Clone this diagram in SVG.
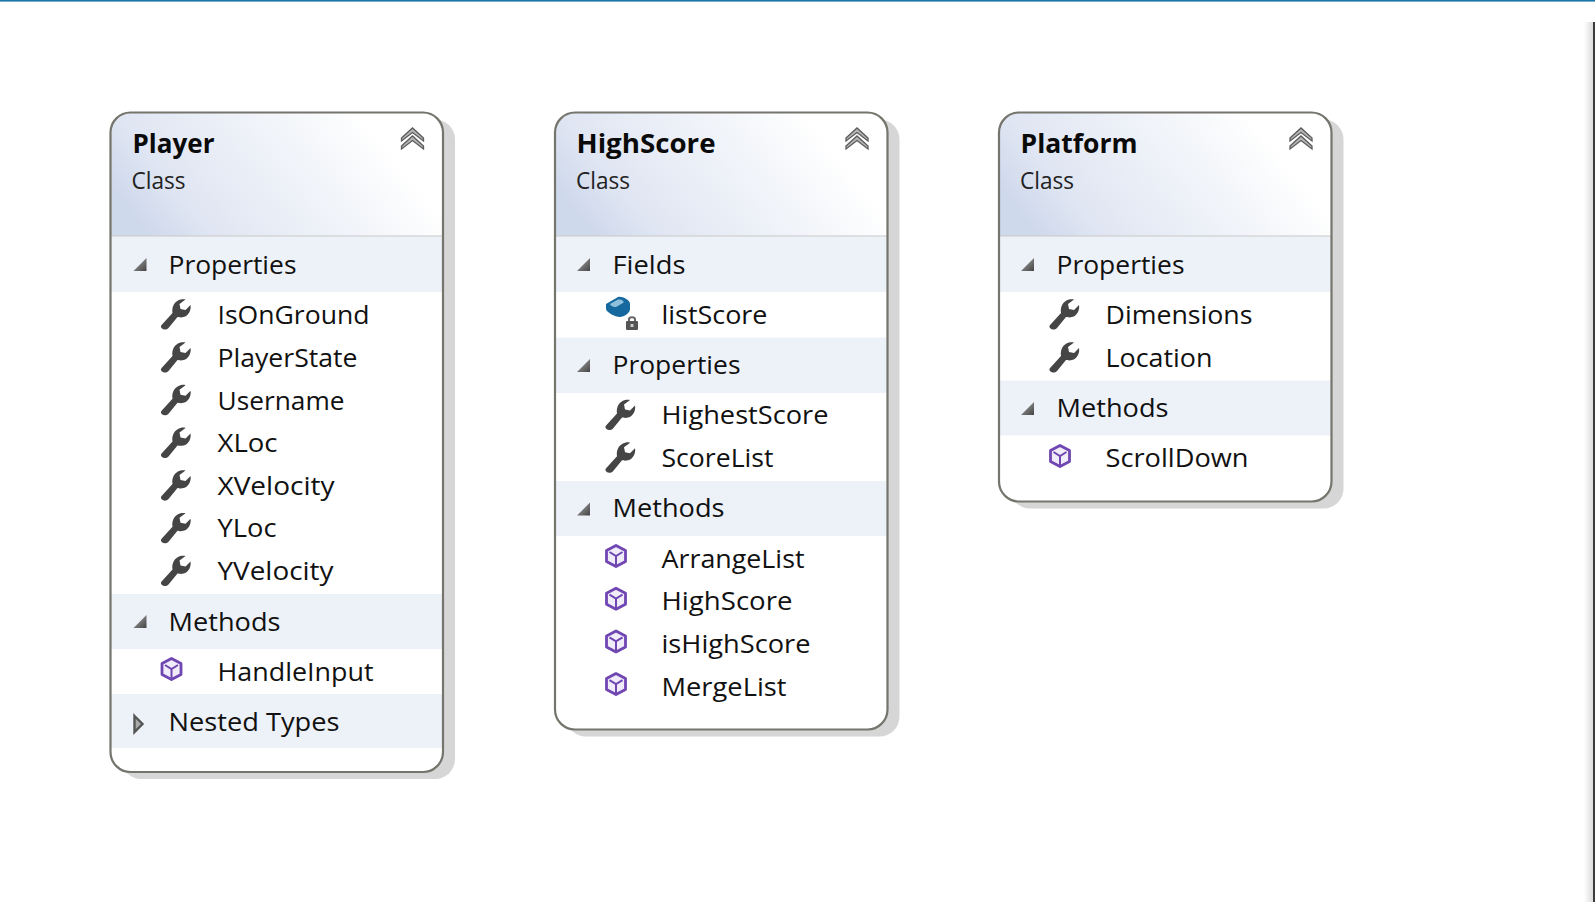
<svg xmlns="http://www.w3.org/2000/svg" width="1595" height="902" viewBox="0 0 1595 902">
<style>
text{font-family:"Open Sans","Noto Sans","Liberation Sans",sans-serif;fill:#111}
.t{font-size:27px;font-weight:700;fill:#0a0a0a}
.c{font-size:23px;fill:#222}
.s,.i{font-size:26px}
.shadow{fill:#d6d6d6}
.body{fill:#fff}
.head{fill:url(#hg)}
.border{fill:none;stroke:#75756d;stroke-width:2.2}
.band{fill:#edf1f8}
.sep{stroke:#c9c9c9;stroke-width:1}
.chev{fill:#b5b5b5;stroke:#5c5c5c;stroke-width:1.3}
</style>
<defs>
<filter id="soft" x="-20%" y="-20%" width="140%" height="140%"><feGaussianBlur stdDeviation="0.7"/></filter>
<linearGradient id="hg" x1="0" y1="0.6" x2="0.85" y2="0.35"><stop offset="0" stop-color="#cfd9ec"/><stop offset="0.2" stop-color="#dfe5f2"/><stop offset="0.45" stop-color="#e9edf6"/><stop offset="0.8" stop-color="#f6f8fb"/><stop offset="1" stop-color="#fff"/></linearGradient>
<linearGradient id="tri" x1="1" y1="1" x2="0" y2="0"><stop offset="0" stop-color="#444"/><stop offset="1" stop-color="#aaa"/></linearGradient>
<linearGradient id="edge" x1="0" y1="0" x2="1" y2="0"><stop offset="0" stop-color="#fff"/><stop offset="1" stop-color="#dcdcdc"/></linearGradient>
<g id="wrench" filter="url(#soft)"><path fill="#444" d="M3,26 L13,15 C12,9 15,3 21,1.5 C23,1 25,1 26,1.5 L20,6 L21,11 L26,12 L31,7 C32,12 29,18 24,19 C21,20 19,19 18,19 L9,30 C7,32 4,32 2.5,30.5 C1,29 1,27.5 3,26 Z"/></g>
<g id="method" filter="url(#soft)"><path fill="#f1ecf9" stroke="#6f47b2" stroke-width="2.8" stroke-linejoin="round" d="M11,1.500 L20.500,6.500 V17.500 L11,22.500 L1.500,17.500 V6.500 Z"/><path fill="none" stroke="#6f47b2" stroke-width="2" d="M4.500,8 L11,12 L17.500,8 M11,12 V22"/></g>
<g id="field" filter="url(#soft)"><path fill="#17699f" d="M1,7 L13,0 C17,-1 25,3 25,7 V12 C25,16 19,20 15,20 C10,20 1,15 1,12 Z"/><path fill="#8fc0dd" d="M5,7 L13,2.500 C16,2 20,4 18,6 L11,10 C9,10.500 5,8.500 5,7 Z"/><rect x="21" y="24" width="12" height="9" rx="1" fill="#555"/><path fill="none" stroke="#666" stroke-width="2" d="M24,24 V22.500 C24,19.500 30,19.500 30,22.500 V24"/><rect x="25.500" y="27" width="3" height="3" fill="#ccc"/></g>
<g id="chevrons" filter="url(#soft)"><path class="chev" d="M0,10 L11,0 L22,10 L22,13 L11,4.500 L0,13 Z"/><path class="chev" d="M0,18 L11,8 L22,18 L22,21 L11,12.500 L0,21 Z"/></g>
<polygon id="open" points="13,0 13,13 0,13" fill="url(#tri)"/>
<polygon id="closed" filter="url(#soft)" points="1,1 9,9 1,17" fill="#aaa" stroke="#555" stroke-width="2.400"/>
</defs>
<rect width="1595" height="902" fill="#fff"/>
<rect x="0" y="0" width="1595" height="1.600" fill="#1a75a8"/>
<rect x="1584" y="22" width="9" height="880" fill="url(#edge)"/>
<rect x="1593" y="22" width="2" height="880" fill="#3c3c3c"/>
<g id="connectors"/>

<g id="node-player" transform="translate(110.500 0)">
<rect class="shadow" x="11" y="119.500" width="333.500" height="659.500" rx="20"/>
<rect class="body" x="0" y="112.500" width="332.500" height="659.500" rx="20"/>
<path class="head" d="M0,236 V132.500 A20,20 0 0 1 20,112.500 H312.500 A20,20 0 0 1 332.500,132.500 V236 Z"/>
<rect class="band" y="236" width="332.500" height="56"/><rect class="band" y="594" width="332.500" height="55"/><rect class="band" y="694" width="332.500" height="54"/>
<line class="sep" x1="0" x2="332.500" y1="236" y2="236"/>
<rect class="border" x="0" y="112.500" width="332.500" height="659.500" rx="20"/>
<use href="#chevrons" x="291" y="128"/>
<text class="t" x="22" y="153" textLength="82" lengthAdjust="spacingAndGlyphs">Player</text>
<text class="c" x="21" y="189" textLength="54" lengthAdjust="spacingAndGlyphs">Class</text>
<use href="#open" x="23" y="258"/><text class="s" x="58" y="274" textLength="128" lengthAdjust="spacingAndGlyphs">Properties</text>
<use href="#wrench" x="49" y="298"/><text class="i" x="107" y="324" textLength="152" lengthAdjust="spacingAndGlyphs">IsOnGround</text>
<use href="#wrench" x="49" y="341"/><text class="i" x="107" y="366.700" textLength="140" lengthAdjust="spacingAndGlyphs">PlayerState</text>
<use href="#wrench" x="49" y="383.700"/><text class="i" x="107" y="409.500" textLength="127" lengthAdjust="spacingAndGlyphs">Username</text>
<use href="#wrench" x="49" y="426.400"/><text class="i" x="107" y="452" textLength="60" lengthAdjust="spacingAndGlyphs">XLoc</text>
<use href="#wrench" x="49" y="469.100"/><text class="i" x="107" y="494.700" textLength="117" lengthAdjust="spacingAndGlyphs">XVelocity</text>
<use href="#wrench" x="49" y="511.800"/><text class="i" x="107" y="537.400" textLength="59" lengthAdjust="spacingAndGlyphs">YLoc</text>
<use href="#wrench" x="49" y="554.500"/><text class="i" x="107" y="580" textLength="116" lengthAdjust="spacingAndGlyphs">YVelocity</text>
<use href="#open" x="23" y="615"/><text class="s" x="58" y="630.500" textLength="112" lengthAdjust="spacingAndGlyphs">Methods</text>
<use href="#method" x="50" y="657"/><text class="i" x="107" y="680.500" textLength="156" lengthAdjust="spacingAndGlyphs">HandleInput</text>
<use href="#closed" x="23" y="715"/><text class="s" x="58" y="730.700" textLength="171" lengthAdjust="spacingAndGlyphs">Nested Types</text>
</g>

<g id="node-highscore" transform="translate(555 0)">
<rect class="shadow" x="11" y="119.500" width="333.500" height="617" rx="20"/>
<rect class="body" x="0" y="112.500" width="332.500" height="617" rx="20"/>
<path class="head" d="M0,236 V132.500 A20,20 0 0 1 20,112.500 H312.500 A20,20 0 0 1 332.500,132.500 V236 Z"/>
<rect class="band" y="236" width="332.500" height="56"/><rect class="band" y="337.500" width="332.500" height="55.500"/><rect class="band" y="481" width="332.500" height="55"/>
<line class="sep" x1="0" x2="332.500" y1="236" y2="236"/>
<rect class="border" x="0" y="112.500" width="332.500" height="617" rx="20"/>
<use href="#chevrons" x="291" y="128"/>
<text class="t" x="21.500" y="153" textLength="139" lengthAdjust="spacingAndGlyphs">HighScore</text>
<text class="c" x="21" y="189" textLength="54" lengthAdjust="spacingAndGlyphs">Class</text>
<use href="#open" x="22" y="258"/><text class="s" x="57.500" y="274" textLength="73" lengthAdjust="spacingAndGlyphs">Fields</text>
<use href="#field" x="50" y="297"/><text class="i" x="106.500" y="324" textLength="106" lengthAdjust="spacingAndGlyphs">listScore</text>
<use href="#open" x="22" y="359"/><text class="s" x="57.500" y="374" textLength="128" lengthAdjust="spacingAndGlyphs">Properties</text>
<use href="#wrench" x="49" y="398.500"/><text class="i" x="106.500" y="424.300" textLength="167" lengthAdjust="spacingAndGlyphs">HighestScore</text>
<use href="#wrench" x="49" y="441.200"/><text class="i" x="106.500" y="466.800" textLength="112" lengthAdjust="spacingAndGlyphs">ScoreList</text>
<use href="#open" x="22" y="502.500"/><text class="s" x="57.500" y="517.100" textLength="112" lengthAdjust="spacingAndGlyphs">Methods</text>
<use href="#method" x="50" y="544"/><text class="i" x="106.500" y="567.700" textLength="143" lengthAdjust="spacingAndGlyphs">ArrangeList</text>
<use href="#method" x="50" y="586.700"/><text class="i" x="106.500" y="610.300" textLength="131" lengthAdjust="spacingAndGlyphs">HighScore</text>
<use href="#method" x="50" y="629.400"/><text class="i" x="106.500" y="652.900" textLength="149" lengthAdjust="spacingAndGlyphs">isHighScore</text>
<use href="#method" x="50" y="672.100"/><text class="i" x="106.500" y="695.500" textLength="125" lengthAdjust="spacingAndGlyphs">MergeList</text>
</g>

<g id="node-platform" transform="translate(999 0)">
<rect class="shadow" x="11" y="119.500" width="333.500" height="389" rx="20"/>
<rect class="body" x="0" y="112.500" width="332.500" height="389" rx="20"/>
<path class="head" d="M0,236 V132.500 A20,20 0 0 1 20,112.500 H312.500 A20,20 0 0 1 332.500,132.500 V236 Z"/>
<rect class="band" y="236" width="332.500" height="56"/><rect class="band" y="380.500" width="332.500" height="55"/>
<line class="sep" x1="0" x2="332.500" y1="236" y2="236"/>
<rect class="border" x="0" y="112.500" width="332.500" height="389" rx="20"/>
<use href="#chevrons" x="291" y="128"/>
<text class="t" x="21.500" y="153" textLength="117" lengthAdjust="spacingAndGlyphs">Platform</text>
<text class="c" x="21" y="189" textLength="54" lengthAdjust="spacingAndGlyphs">Class</text>
<use href="#open" x="22" y="258"/><text class="s" x="57.500" y="274" textLength="128" lengthAdjust="spacingAndGlyphs">Properties</text>
<use href="#wrench" x="49" y="298"/><text class="i" x="106.500" y="324" textLength="147" lengthAdjust="spacingAndGlyphs">Dimensions</text>
<use href="#wrench" x="49" y="341"/><text class="i" x="106.500" y="366.700" textLength="107" lengthAdjust="spacingAndGlyphs">Location</text>
<use href="#open" x="22" y="402"/><text class="s" x="57.500" y="417.400" textLength="112" lengthAdjust="spacingAndGlyphs">Methods</text>
<use href="#method" x="50" y="444"/><text class="i" x="106.500" y="467.200" textLength="143" lengthAdjust="spacingAndGlyphs">ScrollDown</text>
</g>
</svg>
